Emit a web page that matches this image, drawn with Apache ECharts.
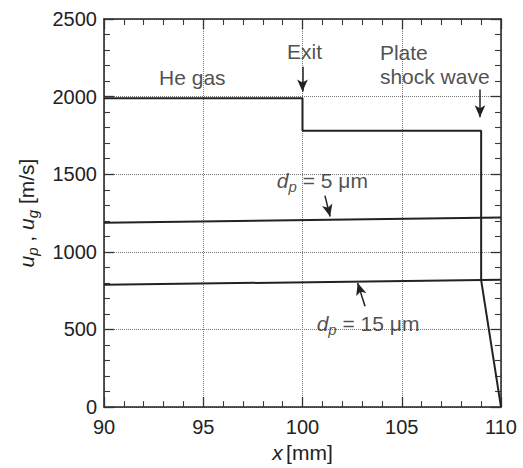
<!DOCTYPE html>
<html><head><meta charset="utf-8">
<script src="https://cdn.jsdelivr.net/npm/echarts@6/dist/echarts.min.js"></script>
<style>html,body{margin:0;padding:0;background:#fff}#c{width:523px;height:468px}</style>
</head><body><div id="c"></div>
<script>
// x range and ticks
var xMin = 90, xMax = 110, xStep = 5;
var yMin = 0, yMax = 2500, yStep = 500;
// He gas velocity
var gasX = [90, 100, 100, 109, 109, 110];
var gasY = [1990, 1990, 1780, 1780, 818, 0];
// particle velocity dp = 5 um
var p5X = [90, 110];
var p5Y = [1187, 1222];
// particle velocity dp = 15 um
var p15X = [90, 110];
var p15Y = [788, 820];
// annotation texts [x, y]
var noteNames = ['He gas', 'Exit', 'Plate\nshock wave', 'dp5', 'dp15'];
var noteX = [94.45, 100.1, 103.9, 101.0, 103.3];
var noteY = [2123, 2289, 2210, 1458, 537];
// arrows: start x, start y, end x, end y
var arrowX0 = [100, 108.94, 101.13, 103.15];
var arrowY0 = [2193, 2046, 1362, 650];
var arrowX1 = [100, 108.94, 101.39, 102.78];
var arrowY1 = [2033, 1867, 1228, 799];

function pairs(xs, ys) { return xs.map(function (x, i) { return [x, ys[i]]; }); }

var FONT = 'Liberation Sans, Arial, sans-serif';
var INK = '#222';
var rich = {
  i: { fontStyle: 'italic', fontSize: 21, fontFamily: FONT, color: INK },
  s: { fontStyle: 'italic', fontSize: 15, fontFamily: FONT, color: INK, padding: [12, 0, 0, 0] },
  n: { fontSize: 21, fontFamily: FONT, color: INK }
};

function mkAxis(extra) {
  var base = {
    type: 'value',
    axisLine: { show: true, onZero: false, lineStyle: { color: INK, width: 1.5 } },
    axisTick: { show: true, inside: true, length: 10, lineStyle: { color: '#333', width: 1.3 } },
    minorTick: { show: true, splitNumber: 5, length: 6, lineStyle: { color: '#3a3a3a', width: 1.1 } }
  };
  for (var k in extra) base[k] = extra[k];
  return base;
}

var noteData = noteNames.map(function (n, i) {
  var item = { value: [noteX[i], noteY[i]], name: n };
  if (n === 'Plate\nshock wave') {
    item.label = { align: 'left', lineHeight: 24 };
  }
  return item;
});

var arrowData = arrowX0.map(function (x, i) {
  return [{ coord: [x, arrowY0[i]] }, { coord: [arrowX1[i], arrowY1[i]] }];
});

var chart = echarts.init(document.getElementById('c'), null, { renderer: 'svg' });
chart.setOption({
  animation: false,
  grid: { left: 104, right: 22, top: 19, bottom: 58 },
  xAxis: [
    mkAxis({
      min: xMin, max: xMax, interval: xStep, position: 'bottom',
      name: '{i|x} {n|[mm]}', nameLocation: 'middle', nameGap: 28,
      nameTextStyle: { rich: rich },
      axisLabel: { show: true, fontSize: 20, fontFamily: FONT, color: INK, margin: 10 },
      splitLine: { show: true, lineStyle: { type: 'dotted', color: '#777', width: 1 } }
    }),
    mkAxis({
      min: xMin, max: xMax, interval: xStep, position: 'top',
      axisLabel: { show: false }, splitLine: { show: false }
    })
  ],
  yAxis: [
    mkAxis({
      min: yMin, max: yMax, interval: yStep, position: 'left',
      name: '{i|u}{s|p}{n| , }{i|u}{s|g}{n| [m/s]}', nameLocation: 'middle', nameGap: 64, nameRotate: 90,
      nameTextStyle: { rich: rich },
      axisLabel: { show: true, fontSize: 20, fontFamily: FONT, color: INK, margin: 7,
        formatter: function (v) { return String(v); } },
      splitLine: { show: true, lineStyle: { type: 'dotted', color: '#777', width: 1 } }
    }),
    mkAxis({
      min: yMin, max: yMax, interval: yStep, position: 'right',
      axisLabel: { show: false }, splitLine: { show: false }
    })
  ],
  series: [
    { type: 'line', data: pairs(gasX, gasY), symbol: 'none', lineStyle: { color: INK, width: 2 } },
    { type: 'line', data: pairs(p5X, p5Y), symbol: 'none', lineStyle: { color: INK, width: 2 } },
    { type: 'line', data: pairs(p15X, p15Y), symbol: 'none', lineStyle: { color: INK, width: 2 },
      markLine: {
        silent: true, symbol: ['none', 'arrow'], symbolSize: [8, 12],
        label: { show: false },
        lineStyle: { color: INK, width: 1.5, type: 'solid' },
        data: arrowData
      }
    },
    { type: 'scatter', data: noteData, symbolSize: 0,
      label: {
        show: true, position: 'inside', fontSize: 21, fontFamily: FONT, color: INK,
        rich: rich,
        formatter: function (p) {
          if (p.name === 'dp5') return '{i|d}{s|p}{n| = 5 μm}';
          if (p.name === 'dp15') return '{i|d}{s|p}{n| = 15 μm}';
          return p.name;
        }
      }
    }
  ]
});
</script></body></html>
